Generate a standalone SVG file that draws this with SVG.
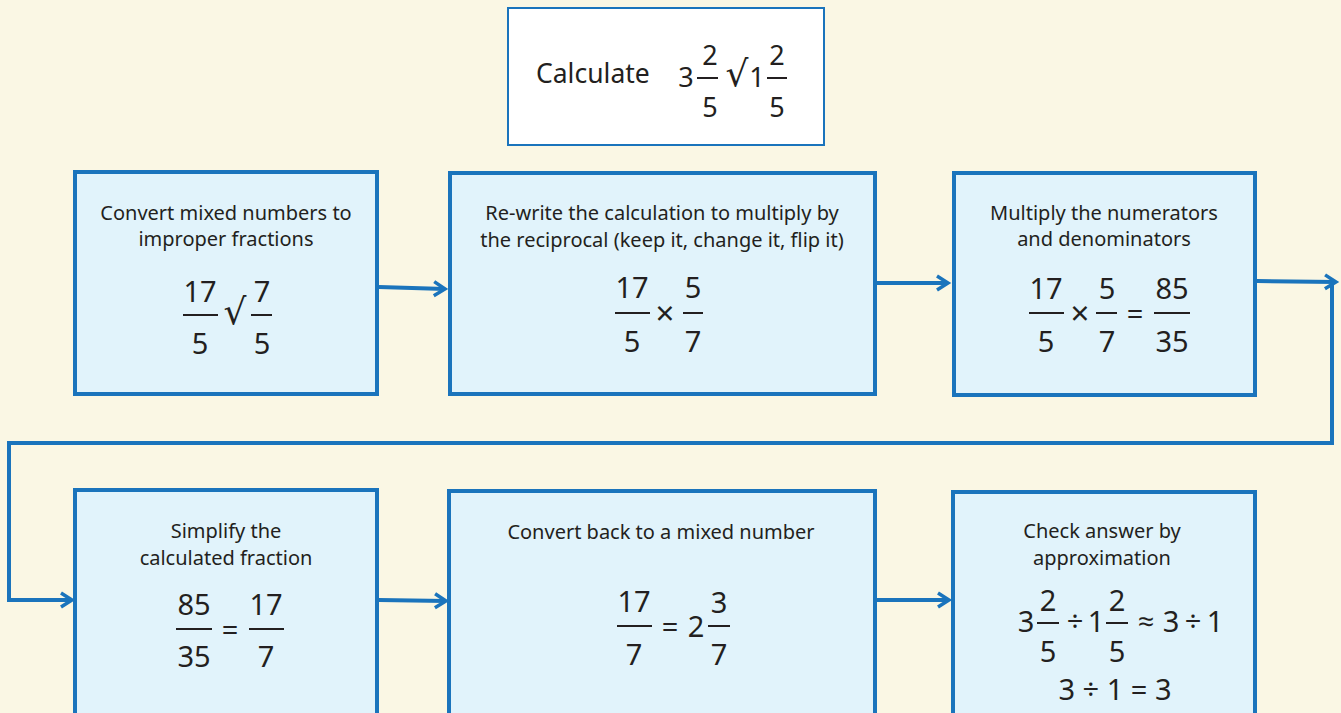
<svg xmlns="http://www.w3.org/2000/svg" width="1341" height="713" viewBox="0 0 1341 713">
<defs>
<style>
.box{fill:#e1f3fb;stroke:#1a74bc;stroke-width:4}
.top{fill:#ffffff;stroke:#1a74bc;stroke-width:2}
.lbl{font-family:"Noto Sans","Open Sans",sans-serif;font-size:20px;fill:#231f20;text-anchor:middle}
.m{font-family:"Noto Sans","Open Sans","DejaVu Sans",sans-serif;font-size:29px;fill:#231f20;text-anchor:middle}
.sq{font-family:"DejaVu Sans",sans-serif;font-size:36px;fill:#231f20;text-anchor:middle}
.bar{stroke:#231f20;stroke-width:2}
.con{fill:none;stroke:#1a74bc;stroke-width:4}
</style>
<marker id="arr" markerUnits="userSpaceOnUse" markerWidth="18" markerHeight="20" refX="14" refY="10" orient="auto">
<path d="M3,3 L14,10 L3,17" fill="none" stroke="#1a74bc" stroke-width="3.5"/>
</marker>
</defs>
<rect x="0" y="0" width="1341" height="713" fill="#faf7e4"/>

<g id="connectors">
<path class="con" d="M379,287 L445,289" marker-end="url(#arr)"/>
<path class="con" d="M877,283 L948,283" marker-end="url(#arr)"/>
<path class="con" d="M1257,281 L1336,282" marker-end="url(#arr)"/>
<path class="con" d="M1332,282 V443 H9 V600 L72,600" marker-end="url(#arr)"/>
<path class="con" d="M379,600 L446,601" marker-end="url(#arr)"/>
<path class="con" d="M877,600 L949,600" marker-end="url(#arr)"/>
</g>

<g id="start">
<rect class="top" x="508" y="8" width="316" height="137"/>
<text x="536" y="83" style="font-family:'Noto Sans','Open Sans',sans-serif;font-size:26.5px;fill:#231f20">Calculate</text>
<text class="m" x="686" y="87" style="font-size:27px">3</text>
<text class="m" x="710" y="65" style="font-size:27px">2</text>
<line class="bar" x1="697" y1="78" x2="718" y2="78"/>
<text class="m" x="710" y="117" style="font-size:27px">5</text>
<text class="sq" x="737" y="86">√</text>
<text class="m" x="757" y="87" style="font-size:27px">1</text>
<text class="m" x="777" y="65" style="font-size:27px">2</text>
<line class="bar" x1="767" y1="78" x2="787" y2="78"/>
<text class="m" x="777" y="117" style="font-size:27px">5</text>
</g>

<g id="step1">
<rect class="box" x="75" y="172" width="302" height="222"/>
<text class="lbl" x="226" y="220">Convert mixed numbers to</text>
<text class="lbl" x="226" y="246">improper fractions</text>
<text class="m" x="200" y="302">17</text>
<line class="bar" x1="183" y1="315" x2="218" y2="315"/>
<text class="m" x="200" y="354">5</text>
<text class="sq" x="235" y="324">√</text>
<text class="m" x="262" y="302">7</text>
<line class="bar" x1="251" y1="315" x2="272" y2="315"/>
<text class="m" x="262" y="354">5</text>
</g>

<g id="step2">
<rect class="box" x="450" y="173" width="425" height="221"/>
<text class="lbl" x="662" y="220">Re-write the calculation to multiply by</text>
<text class="lbl" x="662" y="247">the reciprocal (keep it, change it, flip it)</text>
<text class="m" x="632" y="298">17</text>
<line class="bar" x1="615" y1="313" x2="650" y2="313"/>
<text class="m" x="632" y="352">5</text>
<text class="m" x="665" y="325" style="font-size:33px">×</text>
<text class="m" x="693" y="298">5</text>
<line class="bar" x1="683" y1="313" x2="703" y2="313"/>
<text class="m" x="693" y="352">7</text>
</g>

<g id="step3">
<rect class="box" x="954" y="173" width="301" height="222"/>
<text class="lbl" x="1104" y="220">Multiply the numerators</text>
<text class="lbl" x="1104" y="246">and denominators</text>
<text class="m" x="1046" y="299">17</text>
<line class="bar" x1="1029" y1="313" x2="1064" y2="313"/>
<text class="m" x="1046" y="352">5</text>
<text class="m" x="1080" y="325" style="font-size:33px">×</text>
<text class="m" x="1107" y="299">5</text>
<line class="bar" x1="1096" y1="313" x2="1117" y2="313"/>
<text class="m" x="1107" y="352">7</text>
<text class="m" x="1135" y="324">=</text>
<text class="m" x="1172" y="299">85</text>
<line class="bar" x1="1154" y1="313" x2="1190" y2="313"/>
<text class="m" x="1172" y="352">35</text>
</g>

<g id="step4">
<rect class="box" x="75" y="490" width="302" height="240"/>
<text class="lbl" x="226" y="538">Simplify the</text>
<text class="lbl" x="226" y="565">calculated fraction</text>
<text class="m" x="194" y="615">85</text>
<line class="bar" x1="176" y1="629" x2="212" y2="629"/>
<text class="m" x="194" y="667">35</text>
<text class="m" x="230" y="640">=</text>
<text class="m" x="266" y="615">17</text>
<line class="bar" x1="249" y1="629" x2="284" y2="629"/>
<text class="m" x="266" y="667">7</text>
</g>

<g id="step5">
<rect class="box" x="449" y="491" width="426" height="240"/>
<text class="lbl" x="661" y="539">Convert back to a mixed number</text>
<text class="m" x="634" y="612">17</text>
<line class="bar" x1="617" y1="626" x2="652" y2="626"/>
<text class="m" x="634" y="665">7</text>
<text class="m" x="670" y="637">=</text>
<text class="m" x="696" y="637">2</text>
<text class="m" x="719" y="613">3</text>
<line class="bar" x1="708" y1="626" x2="730" y2="626"/>
<text class="m" x="719" y="665">7</text>
</g>

<g id="step6">
<rect class="box" x="953" y="492" width="302" height="240"/>
<text class="lbl" x="1102" y="538">Check answer by</text>
<text class="lbl" x="1102" y="565">approximation</text>
<text class="m" x="1026" y="632">3</text>
<text class="m" x="1048" y="611">2</text>
<line class="bar" x1="1037" y1="623" x2="1059" y2="623"/>
<text class="m" x="1048" y="662">5</text>
<text class="m" x="1075" y="632">÷</text>
<text class="m" x="1096" y="632">1</text>
<text class="m" x="1117" y="611">2</text>
<line class="bar" x1="1106" y1="623" x2="1128" y2="623"/>
<text class="m" x="1117" y="662">5</text>
<text class="m" x="1146" y="632">≈</text>
<text class="m" x="1171" y="632">3</text>
<text class="m" x="1193" y="632">÷</text>
<text class="m" x="1215" y="632">1</text>
<text class="m" x="1115" y="700">3 ÷ 1 = 3</text>
</g>
</svg>
